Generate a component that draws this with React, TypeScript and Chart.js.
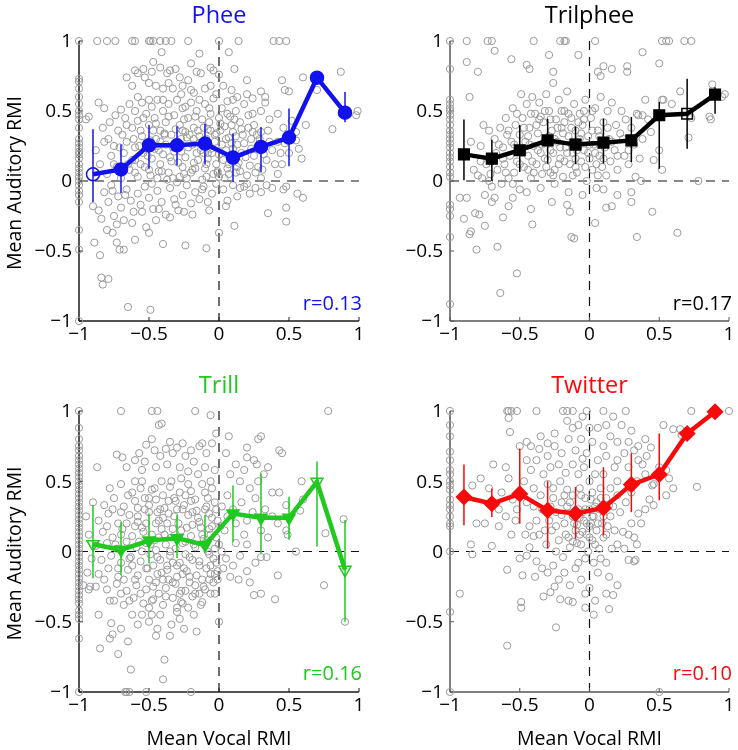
import React, { useEffect, useRef } from "react";
import { Chart, registerables } from "chart.js";

Chart.register(...registerables);

// ---------- data ----------
const binX = [-0.9, -0.7, -0.5, -0.3, -0.1, 0.1, 0.3, 0.5, 0.7, 0.9];
const tickValues = [-1, -0.5, 0, 0.5, 1];
const tickLabels = ["\u22121", "\u22120.5", "0", "0.5", "1"];

const pheeMean = [0.048, 0.083, 0.255, 0.255, 0.267, 0.167, 0.243, 0.31, 0.738, 0.488];
const pheeLo = [-0.15, -0.086, 0.088, 0.11, 0.12, -0.007, 0.064, 0.105, 0.738, 0.42];
const pheeHi = [0.37, 0.26, 0.4, 0.39, 0.41, 0.34, 0.386, 0.517, 0.738, 0.636];
const pheeOpen = [true, false, false, false, false, false, false, false, false, false];

const trilMean = [0.19, 0.16, 0.22, 0.29, 0.26, 0.274, 0.29, 0.47, 0.48, 0.617];
const trilLo = [0.005, 0.0, 0.064, 0.124, 0.12, 0.124, 0.136, 0.088, 0.23, 0.48];
const trilHi = [0.44, 0.295, 0.4, 0.445, 0.39, 0.445, 0.457, 0.564, 0.73, 0.67];
const trilOpen = [false, false, false, false, false, false, false, false, true, false];

const trillMean = [0.052, 0.012, 0.078, 0.095, 0.047, 0.27, 0.24, 0.24, 0.496, -0.13];
const trillLo = [-0.19, -0.165, -0.083, -0.047, 0.0, 0.07, -0.012, 0.083, 0.035, -0.5];
const trillHi = [0.33, 0.21, 0.27, 0.26, 0.26, 0.47, 0.555, 0.39, 0.64, 0.225];
const trillOpen = [true, false, false, false, false, false, false, false, true, true];

const twitMean = [0.388, 0.34, 0.41, 0.293, 0.27, 0.31, 0.476, 0.548, 0.84, 0.995];
const twitLo = [0.186, 0.245, 0.198, 0.02, 0.09, 0.114, 0.28, 0.364, 0.84, 0.995];
const twitHi = [0.62, 0.448, 0.733, 0.5, 0.46, 0.6, 0.7, 0.84, 0.84, 0.995];
const twitOpen = [false, false, false, false, false, false, false, false, false, false];

const pheeCells: number[][] = [
  [-1,1],[-0.87,1],[-0.8,1],[-0.74,1],[-0.62,1],[-0.6,1],[-0.5,1],[-0.49,1],[-0.47,1],[-0.42,1],[-0.38,1],[-0.34,1],[-0.22,1],[0,1],[0.14,1],[0.39,1],[0.43,1],[0.48,1],
  [-1,0.73],[-1,0.71],[-1,0.66],[-1,0.6],[-1,0.55],[-1,0.5],[-1,0.47],[-1,0.44],[-1,0.38],[-1,0.3],[-1,0.27],[-1,0.24],[-1,0.21],[-1,0.19],[-1,0.16],[-1,0.12],[-1,0.09],[-1,0.06],[-1,0.03],[-1,0],[-1,-0.03],[-1,-0.07],[-1,-0.1],[-1,-0.15],[-1,-0.35],[-1,-0.49],[-1,-1],[-0.95,0.44],[-0.93,0.46],
  [-0.41,0.92],[-0.14,0.91],[0.07,0.92],[-0.2,0.84],[-0.47,0.85],[0.11,0.8],[-0.06,0.81],[-0.04,0.79],[0,0.76],[-0.6,0.79],[-0.58,0.77],[-0.53,0.74],[-0.54,0.8],[-0.48,0.78],[-0.42,0.81],[-0.37,0.77],[-0.35,0.79],[-0.31,0.8],[-0.28,0.74],[-0.22,0.72],[-0.16,0.78],[-0.13,0.77],[0.2,0.72],[0.3,0.64],[0.45,0.72],[0.47,0.65],[0.5,0.64],[0.6,0.74],[0.87,0.78],[0.7,0.65],[-0.66,0.74],[-0.62,0.68],[-0.5,0.7],[-0.45,0.68],[-0.4,0.66],[-0.33,0.66],[-0.26,0.68],[-0.18,0.63],[-0.1,0.66],[-0.06,0.68],[0.03,0.68],[0.09,0.65],[0.13,0.6],[0.24,0.59],[0.33,0.6],[-0.2,0.65],[-0.36,0.7],
  [-0.86,0.56],[-0.82,0.52],[-0.78,0.42],[-0.74,0.47],[-0.7,0.51],[-0.67,0.45],[-0.64,0.55],[-0.6,0.5],[-0.58,0.43],[-0.55,0.56],[-0.52,0.48],[-0.5,0.4],[-0.48,0.53],[-0.46,0.45],[-0.44,0.58],[-0.42,0.36],[-0.4,0.5],[-0.38,0.42],[-0.36,0.55],[-0.34,0.33],[-0.32,0.47],[-0.3,0.58],[-0.28,0.4],[-0.26,0.52],[-0.24,0.35],[-0.22,0.45],[-0.2,0.56],[-0.18,0.38],[-0.16,0.5],[-0.14,0.32],[-0.12,0.44],[-0.1,0.55],[-0.08,0.37],[-0.06,0.48],[-0.04,0.59],[-0.02,0.34],[0,0.45],[0.02,0.52],[0.04,0.39],[0.06,0.57],[0.08,0.46],[0.1,0.35],[0.12,0.5],[0.15,0.42],[0.18,0.55],[0.21,0.38],[0.24,0.48],[0.27,0.33],[0.3,0.5],[0.33,0.56],[0.36,0.44],[0.42,0.48],[0.46,0.38],[0.52,0.43],[0.55,0.35],[0.62,0.4],[0.81,0.37],[0.99,0.5],[0.98,0.47],[-0.56,0.36],[-0.62,0.38],[-0.72,0.36],[-0.45,0.3],[-0.27,0.3],[-0.09,0.3],[0.07,0.31],[0.25,0.4],
  [-0.88,0.22],[-0.85,0.12],[-0.82,0.28],[-0.8,0.05],[-0.77,0.18],[-0.75,0.25],[-0.73,0.1],[-0.7,0.02],[-0.68,0.2],[-0.66,0.28],[-0.64,0.08],[-0.62,0.15],[-0.6,0.24],[-0.58,0.03],[-0.56,0.12],[-0.54,0.2],[-0.52,0.27],[-0.5,0.08],[-0.48,0.16],[-0.46,0.23],[-0.44,0.02],[-0.42,0.12],[-0.4,0.19],[-0.38,0.26],[-0.36,0.06],[-0.34,0.14],[-0.32,0.21],[-0.3,0.28],[-0.28,0.03],[-0.26,0.1],[-0.24,0.17],[-0.22,0.24],[-0.2,0.06],[-0.18,0.13],[-0.16,0.2],[-0.14,0.27],[-0.12,0.01],[-0.1,0.09],[-0.08,0.16],[-0.06,0.23],[-0.04,0.05],[-0.02,0.12],[0,0.19],[0.02,0.26],[0.04,0.02],[0.06,0.09],[0.08,0.16],[0.1,0.23],[0.12,0.06],[0.14,0.13],[0.16,0.2],[0.18,0.27],[0.2,0.04],[0.22,0.11],[0.25,0.18],[0.28,0.25],[0.31,0.08],[0.34,0.15],[0.38,0.22],[0.42,0.05],[0.45,0.12],[0.5,0.2],[0.55,0.29],[0.57,0.23],[0.59,0.16],[0.42,0.28],
  [-0.55,0.32],[-0.47,0.36],[-0.39,0.33],[-0.31,0.37],[-0.23,0.31],[-0.15,0.36],[-0.07,0.42],[0.01,0.36],[0.09,0.4],[0.17,0.33],[-0.51,0.18],[-0.43,0.22],[-0.35,0.17],[-0.27,0.21],[-0.19,0.26],[-0.11,0.2],[-0.03,0.28],[0.05,0.22],[0.13,0.26],[-0.49,0.04],[-0.41,0.07],[-0.33,0.02],[-0.25,0.05],[-0.17,0.09],[-0.09,0.03],[-0.01,0.06],[0.07,0.12],[0.15,0.07],[0.23,0.3],[0.3,0.35],
  [-0.69,0.33],[-0.65,0.12],[-0.61,0.3],[-0.57,0.25],[-0.53,0.1],[-0.49,0.29],[-0.45,0.41],[-0.43,0.07],[-0.39,0.34],[-0.37,0.01],[-0.33,0.24],[-0.29,0.13],[-0.25,0.44],[-0.23,0.02],[-0.21,0.33],[-0.19,0.08],[-0.17,0.46],[-0.15,0.15],[-0.13,0.22],[-0.11,0.38],[-0.09,0.12],[-0.07,0.52],[-0.05,0.2],[-0.03,0.33],[-0.01,0.07],[0.01,0.41],[0.03,0.15],[0.05,0.3],[0.07,0.05],[0.09,0.27],[0.11,0.44],[0.13,0.1],[0.16,0.37],[0.19,0.17],[0.21,0.47],[0.23,0.23],[0.26,0.06],[0.29,0.3],[0.32,0.19],[0.35,0.36],[0.4,0.12],[0.44,0.2],[0.47,0.27],[-0.66,0.4],[-0.6,0.06],[-0.54,0.45],[-0.48,-0.02],[-0.42,0.28],[-0.36,0.46],[-0.3,-0.01],[-0.24,0.53],[-0.18,0.3],[-0.12,-0.06],[-0.06,0.36],[0,0.03],[0.06,0.48],[0.12,0.32],[0.18,-0.04],[0.24,0.35],[0.3,0.02],[0.36,0.28],[-0.58,0.6],[-0.5,0.58],[-0.4,0.58],[-0.27,0.62],[-0.14,0.58],[-0.02,0.62],[0.1,0.58],[0.2,0.62],[-0.75,0.12],[-0.79,0.3],[-0.71,0.24],[-0.83,0.38],[-0.76,-0.07],[-0.67,-0.1],[-0.55,-0.22],[-0.43,-0.2],[-0.31,-0.17],[-0.19,-0.24],[-0.07,-0.21],[0.05,-0.18],[0.13,-0.11],[0.22,-0.09],[-0.6,0.15],[-0.44,0.25],[-0.26,0.36],[-0.08,0.2],[0.1,0.14],[0.28,0.1],
  [-0.9,-0.18],[-0.86,-0.21],[-0.84,-0.27],[-0.82,-0.08],[-0.79,-0.15],[-0.77,-0.03],[-0.75,-0.25],[-0.72,-0.11],[-0.7,-0.19],[-0.68,-0.28],[-0.66,-0.06],[-0.63,-0.14],[-0.61,-0.22],[-0.58,-0.09],[-0.56,-0.17],[-0.53,-0.04],[-0.5,-0.12],[-0.47,-0.2],[-0.44,-0.07],[-0.41,-0.15],[-0.38,-0.24],[-0.35,-0.05],[-0.32,-0.13],[-0.29,-0.21],[-0.26,-0.1],[-0.23,-0.03],[-0.2,-0.16],[-0.17,-0.08],[-0.14,-0.13],[-0.11,-0.04],[-0.08,-0.15],[-0.05,-0.09],[-0.02,-0.02],[0.03,-0.06],[0.06,-0.14],[0.1,-0.03],[0.15,-0.05],[0.2,-0.02],[0.26,-0.05],[0.3,-0.08],[0.34,-0.03],[0.38,-0.05],[0.46,-0.06],[0.48,-0.04],[0.56,-0.09],[-0.73,-0.31],[-0.8,-0.35],[-0.62,-0.3],[-0.52,-0.33],[-0.45,-0.28],[-0.35,-0.26],[-0.25,-0.22],
  [-0.85,-0.53],[-0.84,-0.69],[-0.83,-0.74],[-0.79,-0.7],[-0.65,-0.9],[-0.49,-0.92],[-0.89,-0.44],[-0.76,-0.37],[-0.73,-0.44],[-0.71,-0.49],[-0.68,-0.49],[-0.6,-0.42],[-0.5,-0.37],[-0.4,-0.45],[-0.24,-0.46],[-0.09,-0.48],[0,-0.37],[0.11,-0.32],[0.35,-0.23],[0.48,-0.29],[0.48,-0.19],[0.6,-0.12],
];

const trilCells: number[][] = [
  [-1,1],[-0.88,1],[-0.73,1],[-0.7,1],[-0.4,1],[-0.21,1],[-0.18,1],[-0.17,1],[0.04,1],[0.52,1],[0.55,1],[0.57,1],[0.68,1],[0.73,1],
  [-1,0.8],[-1,0.58],[-1,0.55],[-1,0.52],[-1,0.5],[-1,0.47],[-1,0.44],[-1,0.4],[-1,0.36],[-1,0.33],[-1,0.3],[-1,0.27],[-1,0.24],[-1,0.2],[-1,0.17],[-1,0.14],[-1,0.1],[-1,0.06],[-1,0.03],[-1,-0.17],[-1,-0.2],[-1,-0.25],[-1,-0.4],[-1,-0.88],
  [-0.88,0.85],[-0.86,0.6],[-0.8,0.78],[-0.68,0.93],[-0.56,0.87],[-0.45,0.83],[-0.43,0.8],[-0.29,0.9],[-0.26,0.78],[-0.08,0.9],[0.06,0.78],[0.08,0.75],[0.1,0.82],[0.16,0.8],[0.27,0.82],[0.27,0.78],[0.38,0.92],[0.5,0.84],[0.53,0.58],[0.65,0.64],[0.88,0.69],[0.97,0.62],[0.95,0.6],[0.86,0.46],[0.87,0.44],[0.59,0.55],[0.52,0.58],[0.4,0.58],[0.35,0.47],[0.38,0.47],[0.73,0.45],[0.71,0.31],[0.5,0.22],[0.52,0.08],[0.46,0.15],[0.44,0.35],[0.33,0.03],[0.37,0],[0.78,0],[0.3,-0.08],[0.3,-0.15],[0.45,-0.22],[0.34,-0.4],[0.63,-0.37],[0.12,-0.19],[0.16,-0.18],[0.04,-0.3],[-0.13,-0.4],[-0.11,-0.41],[-0.14,-0.22],[-0.16,-0.17],[-0.27,-0.15],[-0.41,-0.31],[-0.42,-0.2],[-0.66,-0.47],[-0.52,-0.66],[-0.64,-0.8],[-0.85,-0.36],[-0.86,-0.38],[-0.81,-0.49],[-0.9,-0.27],[-0.88,-0.12],[-0.93,-0.12],[-0.75,-0.32],[-0.79,-0.24],[-0.82,-0.23],[-0.7,-0.15],[-0.62,-0.26],[-0.58,-0.18],[-0.55,-0.12],
  [-0.85,0.28],[-0.83,0.08],[-0.8,0.04],[-0.78,0.25],[-0.77,0.02],[-0.76,0.4],[-0.74,0.12],[-0.72,0.36],[-0.71,0.05],[-0.7,-0.04],[-0.68,0.3],[-0.67,0.2],[-0.66,0.08],[-0.64,0.38],[-0.63,-0.02],[-0.62,0.24],[-0.61,0.12],[-0.6,0.45],[-0.59,0.33],[-0.58,0.02],[-0.57,0.18],[-0.56,0.28],[-0.55,0.52],[-0.54,0.06],[-0.53,0.4],[-0.52,0.14],[-0.51,0.22],[-0.5,0.33],[-0.5,-0.06],[-0.49,0.62],[-0.48,0.45],[-0.47,0.1],[-0.46,0.28],[-0.45,0.55],[-0.44,0.18],[-0.43,0.38],[-0.42,0.02],[-0.41,0.6],[-0.4,0.25],[-0.39,0.48],[-0.38,0.12],[-0.37,0.34],[-0.36,0.56],[-0.35,0.2],[-0.34,0.05],[-0.33,0.42],[-0.32,0.3],[-0.31,0.62],[-0.3,0.15],[-0.29,0.5],[-0.28,0.22],[-0.27,0.36],[-0.26,0.7],[-0.25,0.08],[-0.24,0.44],[-0.23,0.28],[-0.22,0.58],[-0.21,0.16],[-0.2,0.38],[-0.19,0.03],[-0.18,0.5],[-0.17,0.24],[-0.16,0.64],[-0.15,0.32],[-0.14,0.12],[-0.13,0.45],[-0.12,0.2],[-0.11,0.55],[-0.1,0.36],[-0.09,0.06],[-0.08,0.28],[-0.07,0.48],[-0.06,0.14],[-0.05,0.4],[-0.04,0.22],[-0.03,0.58],[-0.02,0],[-0.01,0.32],[0,0.16],[0.01,0.45],[0.02,0.08],[0.03,0.26],[0.04,0.52],[0.05,-0.05],[0.06,0.36],[0.07,0.18],[0.08,0.6],[0.09,0.1],[0.1,0.42],[0.11,0.24],[0.12,0.04],[0.13,0.5],[0.14,0.3],[0.15,0.14],[0.16,0.56],[0.18,0.22],[0.19,0.4],[0.2,0.08],[0.22,0.34],[0.23,0.5],[0.25,0.18],[0.26,0.44],[0.28,0.12],[0.3,0.38],[0.32,0.26],[0.34,0.48],[0.36,0.16],[0.38,0.3],[0.42,0.44],[-0.75,-0.1],[-0.68,-0.12],[-0.55,-0.02],[-0.45,-0.08],[-0.35,-0.05],[-0.25,-0.02],[-0.15,-0.08],[-0.05,-0.1],[0.1,-0.06],[0.2,-0.1],
  [-0.48,0.2],[-0.44,0.32],[-0.41,0.14],[-0.38,0.4],[-0.34,0.26],[-0.31,0.1],[-0.28,0.44],[-0.25,0.3],[-0.22,0.12],[-0.19,0.34],[-0.16,0.2],[-0.13,0.38],[-0.1,0.1],[-0.07,0.3],[-0.04,0.44],[-0.01,0.2],[0.02,0.36],[0.05,0.12],[-0.26,0.2],[-0.18,0.42],[-0.09,0.22],[-0.32,0.5],[-0.42,0.48],[-0.12,0.28],
  [-0.62,0.16],[-0.58,0.36],[-0.54,0.26],[-0.5,0.12],[-0.47,0.38],[-0.43,0.26],[-0.4,0.06],[-0.37,0.22],[-0.35,0.46],[-0.32,0.16],[-0.29,0.32],[-0.26,0.04],[-0.23,0.38],[-0.21,0.24],[-0.18,0.14],[-0.15,0.48],[-0.13,0.26],[-0.1,0.16],[-0.08,0.42],[-0.06,0.34],[-0.03,0.1],[0,0.26],[0.02,0.5],[0.04,0.2],[0.07,0.32],[0.1,0.16],[0.13,0.38],[0.16,0.28],[0.2,0.18],[0.24,0.3],[0.28,0.22],[-0.6,0.06],[-0.52,0.48],[-0.44,0.08],[-0.36,0.44],[-0.28,0.06],[-0.2,0.5],[-0.12,0.04],[-0.04,0.5],[0.06,0.04],[-0.7,0.14],[-0.65,0.26],[-0.78,0.14],[-0.72,0],
];

const trillCells: number[][] = [
  [-1,1],[-0.7,1],[-0.48,1],[-0.44,1],[-0.17,1],[0.78,1],[-0.06,0.97],[-0.43,0.9],[-0.41,0.91],
  [-1,0.88],[-1,0.8],[-1,0.75],[-1,0.72],[-1,0.68],[-1,0.65],[-1,0.62],[-1,0.59],[-1,0.56],[-1,0.53],[-1,0.5],[-1,0.47],[-1,0.44],[-1,0.41],[-1,0.38],[-1,0.35],[-1,0.32],[-1,0.29],[-1,0.26],[-1,0.23],[-1,0.2],[-1,0.17],[-1,0.14],[-1,0.11],[-1,0.08],[-1,0.05],[-1,0.02],[-1,-0.01],[-1,-0.04],[-1,-0.07],[-1,-0.1],[-1,-0.13],[-1,-0.16],[-1,-0.19],[-1,-0.22],[-1,-0.25],[-1,-0.28],[-1,-0.31],[-1,-0.34],[-1,-0.37],[-1,-0.42],[-1,-0.45],[-1,-0.48],[-1,-0.62],[-1,-1],
  [-0.67,-1],[-0.66,-1],[-0.64,-1],[-0.52,-1],[-0.2,-1],
  [-0.85,-0.69],[-0.72,-0.73],[-0.63,-0.84],[-0.65,-0.64],[-0.39,-0.77],[-0.4,-0.91],[-0.16,-0.57],[0,-0.5],[-0.86,-0.45],[-0.77,-0.51],[-0.76,-0.59],[-0.78,-0.62],[-0.7,-0.55],[-0.62,-0.45],[-0.58,-0.52],[-0.55,-0.45],[-0.5,-0.5],[-0.45,-0.6],[-0.44,-0.55],[-0.48,-0.45],[-0.34,-0.52],[-0.3,-0.43],[-0.28,-0.48],[-0.22,-0.4],[-0.27,-0.36],[-0.92,-0.25],[-0.93,-0.27],[-0.88,-0.25],
  [0.59,0.5],[0.6,0.37],[0.58,0.29],[0.76,0.13],[0.75,-0.24],[0.89,0.23],[0.9,-0.5],[0.43,0.72],[0.45,0.7],[0.3,0.82],[0.28,0.8],[0.2,0.74],[0.2,0.67],[0.25,0.65],[0.27,0.62],[0.35,0.6],[0.32,0.55],[0.4,-0.34],[0.3,-0.3],[0.25,-0.31],[0.22,-0.22],[0.3,-0.04],[0.34,-0.04],[0.55,0],[0.42,-0.17],[0.38,0.42],[0.43,0.42],[0.48,0.33],[0.48,0.15],[0.49,0.12],[0.35,0.1],[0.18,0.58],[0.12,0.62],[0.08,0.55],[0.15,0.5],[0.22,0.45],[0.26,0.38],[0.33,0.3],[0.38,0.25],[0.42,0.2],[0.3,0.15],[0.18,0.12],[0.12,0.2],[0.06,0.4],[0.1,0.3],[0.2,0.05],[0.15,-0.03],[0.1,-0.1],[0.05,-0.05],[0.08,-0.18],[0.14,-0.2],[0.2,-0.14],[0.26,-0.08],[0.04,0.15],[0.06,0.25],[0.16,0.35],[0.28,0.5],[0.05,0.7],[0.07,0.82],[-0.02,0.84],[0.24,0.28],[0.2,0.22],[0.12,0.06],
  [-0.87,0.6],[-0.73,0.69],[-0.69,0.67],[-0.66,0.6],[-0.6,0.65],[-0.57,0.7],[-0.53,0.64],[-0.52,0.76],[-0.48,0.8],[-0.46,0.72],[-0.42,0.68],[-0.38,0.73],[-0.35,0.78],[-0.33,0.7],[-0.3,0.74],[-0.26,0.77],[-0.24,0.68],[-0.2,0.72],[-0.18,0.64],[-0.14,0.75],[-0.12,0.77],[-0.09,0.7],[-0.05,0.77],[-0.55,0.58],[-0.45,0.6],[-0.37,0.62],[-0.28,0.6],[-0.22,0.57],[-0.1,0.6],[-0.03,0.58],
  [-0.78,0.45],[-0.7,0.48],[-0.62,0.42],[-0.55,0.5],[-0.48,0.44],[-0.41,0.5],[-0.35,0.46],[-0.27,0.52],[-0.2,0.43],[-0.12,0.48],[-0.05,0.45],
  [-0.82,0.33],[-0.75,0.38],[-0.68,0.32],[-0.6,0.36],[-0.53,0.3],[-0.45,0.37],[-0.39,0.31],[-0.32,0.38],[-0.25,0.33],[-0.17,0.37],[-0.1,0.3],[-0.03,0.35],
  [-0.86,0.22],[-0.79,0.27],[-0.72,0.2],[-0.64,0.26],[-0.58,0.21],[-0.5,0.28],[-0.43,0.22],[-0.36,0.27],[-0.29,0.2],[-0.22,0.26],[-0.14,0.21],[-0.07,0.27],[-0.01,0.22],
  [-0.83,0.14],[-0.76,0.1],[-0.69,0.16],[-0.62,0.11],[-0.55,0.17],[-0.48,0.12],[-0.41,0.16],[-0.34,0.1],[-0.27,0.15],[-0.2,0.11],[-0.13,0.17],[-0.06,0.12],
  [-0.88,0.04],[-0.8,0.06],[-0.73,0.02],[-0.66,0.07],[-0.59,0.03],[-0.52,0.06],[-0.45,0.01],[-0.38,0.05],[-0.31,0.02],[-0.24,0.07],[-0.17,0.03],[-0.1,0.06],[-0.03,0.02],
  [-0.84,-0.06],[-0.77,-0.03],[-0.7,-0.08],[-0.63,-0.04],[-0.56,-0.07],[-0.49,-0.02],[-0.42,-0.06],[-0.35,-0.03],[-0.28,-0.08],[-0.21,-0.04],[-0.14,-0.07],[-0.07,-0.02],[-0.02,-0.08],
  [-0.86,-0.16],[-0.79,-0.12],[-0.72,-0.18],[-0.65,-0.13],[-0.58,-0.17],[-0.51,-0.12],[-0.44,-0.16],[-0.37,-0.13],[-0.3,-0.18],[-0.23,-0.14],[-0.16,-0.17],[-0.09,-0.12],[-0.03,-0.16],
  [-0.8,-0.27],[-0.73,-0.23],[-0.66,-0.28],[-0.59,-0.24],[-0.52,-0.27],[-0.45,-0.22],[-0.38,-0.26],[-0.31,-0.23],[-0.24,-0.28],[-0.17,-0.24],[-0.1,-0.27],[-0.04,-0.22],
  [-0.75,-0.35],[-0.68,-0.38],[-0.61,-0.33],[-0.54,-0.37],[-0.47,-0.34],[-0.4,-0.38],[-0.33,-0.33],[-0.26,-0.37],[-0.19,-0.32],[-0.12,-0.36],[-0.06,-0.3],
  [-0.65,0.4],[-0.58,0.31],[-0.5,0.38],[-0.44,0.28],[-0.37,0.2],[-0.3,0.3],[-0.24,0.4],[-0.16,0.29],[-0.08,0.38],[-0.6,0.18],[-0.52,0.2],[-0.46,0.08],[-0.4,0.24],[-0.33,0.16],[-0.26,0.06],[-0.19,0.19],[-0.11,0.09],[-0.05,0.18],[-0.62,-0.1],[-0.55,0],[-0.47,-0.1],[-0.4,-0.2],[-0.33,-0.08],[-0.26,-0.16],[-0.19,-0.06],[-0.12,-0.2],[-0.06,-0.1],[-0.5,-0.2],[-0.43,-0.3],[-0.36,-0.2],[-0.28,-0.3],[-0.21,-0.22],[-0.14,-0.3],[-0.07,-0.2],[-0.01,-0.14],[-0.02,0.1],[-0.7,0.28],[-0.74,0.05],[-0.68,-0.2],[-0.7,-0.3],[-0.9,0.35],[-0.95,0.25],[-0.93,0.12],[-0.91,-0.05],[-0.94,-0.15],[-0.97,-0.24],
  [-0.58,0.25],[-0.56,-0.3],[-0.54,0.14],[-0.52,-0.12],[-0.5,0.33],[-0.49,0.05],[-0.47,-0.25],[-0.45,0.2],[-0.44,-0.04],[-0.42,0.3],[-0.41,-0.15],[-0.39,0.12],[-0.38,-0.32],[-0.36,0.36],[-0.35,0],[-0.33,-0.22],[-0.32,0.25],[-0.3,-0.1],[-0.29,0.1],[-0.27,-0.28],[-0.26,0.3],[-0.24,-0.02],[-0.23,0.17],[-0.21,-0.18],[-0.2,0.36],[-0.18,0.05],[-0.17,-0.3],[-0.15,0.24],[-0.14,-0.1],[-0.12,0.12],[-0.11,-0.25],[-0.09,0.32],[-0.08,0],[-0.06,-0.16],[-0.05,0.24],[-0.04,-0.05],[-0.02,0.3],[-0.01,-0.2],[0,0.05],[-0.57,0.07],[-0.53,0.38],[-0.48,-0.35],[-0.43,0.1],[-0.37,-0.1],[-0.31,0.36],[-0.25,-0.12],[-0.19,0.28],[-0.13,-0.38],[-0.07,0.16],[-0.03,-0.3],[-0.6,-0.2],[-0.66,0.2],[-0.64,-0.05],[-0.7,0.12],[-0.72,-0.12],[-0.76,0.3],[-0.8,0.18],[-0.82,-0.2],[-0.78,-0.35],[-0.64,-0.35],[-0.56,0.45],[-0.46,0.45],[-0.34,0.5],[-0.22,0.48],[-0.15,0.55],[-0.06,0.5],[-0.1,0.42],[-0.28,0.42],[-0.4,0.4],[-0.6,0.5],[0.02,0.32],[0.03,-0.12],[0.02,0],[0.01,0.18],[-0.5,-0.4],[-0.42,-0.45],[-0.3,-0.4],[-0.18,-0.45],[-0.35,-0.6],[-0.25,-0.55],
];

const twitCells: number[][] = [
  [-1,1],[-0.59,1],[-0.58,1],[-0.56,1],[-0.52,1],[-0.38,1],[-0.19,1],[-0.16,1],[-0.12,1],[-0.02,1],[0.1,1],[0.26,1],[0.73,1],[1,1],
  [-1,0.9],[-1,0.82],[-1,0.71],[-1,0.65],[-1,0.58],[-1,0.55],[-1,0.5],[-1,0.47],[-1,0.44],[-1,0.37],[-1,0.33],[-1,0.3],[-1,0.25],[-1,0.2],[-1,0.18],[-1,0],[-1,-0.43],[-1,-1],
  [-0.93,-0.3],[-0.59,-0.67],[-0.24,-0.54],[0.03,-0.45],[-0.03,-0.4],[0.14,-0.41],[0.17,-0.31],[0.2,-0.24],[0.14,-0.18],[-0.49,-0.36],[-0.49,-0.4],[-0.48,-0.17],[-0.59,-0.13],[-0.5,-0.05],[-0.39,-0.18],[-0.33,-0.32],[-0.28,-0.29],[-0.25,-0.25],[-0.21,-0.34],[-0.15,-0.35],[-0.12,-0.36],[-0.03,-0.3],[0.5,-1],[0.32,-0.07],[0.33,-0.06],[-0.85,0.05],[-0.84,0.47],[-0.78,0.52],[-0.81,0.2],[-0.7,0.04],[-0.69,0.62],[-0.84,-0.02],[-0.57,0.85],[-0.58,0.95],[-0.45,0.78],[-0.5,0.75],[-0.42,0.75],[-0.36,0.73],[-0.3,0.77],[-0.12,0.88],[0.06,0.88],[0.12,0.9],[0.23,0.9],[0.17,0.96],[0.4,0.8],[0.44,0.74],[0.53,0.9],[0.6,0.87],[0.65,0.87],[0.66,0.83],[0.77,0.46],[0.46,0.48],[0.46,0.33],[0.43,0.37],[0.45,0.47],[0.32,0.1],[0.35,0.27],[0.5,0.6],
  [-0.6,0.25],[-0.65,0.18],[-0.55,0.37],[-0.58,0.52],[-0.6,0.6],[-0.63,0.42],[-0.53,0.22],[-0.56,0.12],[-0.46,0.12],[-0.4,0.11],[-0.45,-0.03],[-0.43,0.03],[-0.38,-0.07],[-0.34,-0.12],[-0.3,-0.15],[-0.26,-0.1],[-0.22,-0.2],[-0.18,-0.15],[-0.14,-0.24],[-0.1,-0.12],[-0.06,-0.2],[-0.08,-0.08],[0,-0.26],[0.06,-0.15],[0.08,-0.05],[0.12,-0.08],[0.16,0.02],[0.2,0.05],[0.24,0.14],[0.28,0.12],[0.3,0.2],[0.22,0.28],[0.26,0.35],[0.3,0.42],[0.34,0.5],[0.38,0.62],[0.32,0.72],[0.35,0.65],[0.4,0.55],[0.28,0.6],[0.25,0.7],[0.2,0.78],[0.15,0.82],[0.1,0.75],[0.12,0.68],[0.18,0.6],[0.2,0.5],[0.15,0.45],[0.1,0.55],[0.06,0.65],[0.02,0.78],[-0.02,0.7],[-0.06,0.8],[-0.1,0.72],[-0.15,0.8],[-0.2,0.7],[-0.25,0.75],[-0.22,0.62],[-0.28,0.6],[-0.33,0.55],[-0.38,0.65],[-0.42,0.58],[-0.47,0.5],[-0.5,0.42],[-0.45,0.35],[-0.4,0.45],[-0.35,0.4],[-0.3,0.48],[-0.26,0.38],[-0.21,0.5],[-0.17,0.56],[-0.12,0.62],[-0.08,0.55],[-0.04,0.6],[0,0.5],[0.04,0.55],[0.08,0.45],[0.12,0.38],[0.17,0.32],[0.2,0.4],[0.05,0.35],[0.02,0.42],[-0.03,0.38],[-0.07,0.45],[-0.12,0.4],[-0.16,0.44],[-0.2,0.35],[-0.24,0.28],[-0.29,0.22],[-0.34,0.3],[-0.38,0.22],[-0.43,0.18],[-0.36,0.12],[-0.31,0.05],[-0.27,0.15],[-0.22,0.08],[-0.18,0.2],[-0.15,0.1],[-0.12,0.25],[-0.1,0.15],[-0.08,0.3],[-0.06,0.05],[-0.04,0.22],[-0.02,0.12],[0,0.3],[0,0.18],[0.02,0.08],[0.03,0.25],[0.05,0.15],[0.07,0.02],[0.09,0.2],[0.1,0.1],[0.13,0.18],[0.15,0.25],[-0.14,0.03],[-0.19,-0.04],[-0.24,0],[-0.03,-0.05],[-0.01,0],[0.03,-0.08],[-0.09,0.19],[-0.05,0.28],[0.01,0.2],[-0.07,0.12],[-0.16,0.32],[0.07,0.3],[-0.72,0.45],[-0.75,0.2],[-0.65,0.3],[-0.08,0.9],[0,0.88],[-0.16,0.93],[-0.05,0.96],[-0.25,0.84],[-0.35,0.82],[0.3,0.86],[0.35,0.75],[0.41,0.68],[0.55,0.58],[0.57,0.52],[0.6,0.45],[0.55,0.4],[0.4,0.3],[0.37,0.2],[0.34,0.05],[0.28,-0.06],[0.25,0.02],[0.12,-0.3],[0.04,-0.35],
  [-0.28,0.32],[-0.24,0.18],[-0.2,0.26],[-0.17,0.12],[-0.14,0.35],[-0.11,0.2],[-0.09,0.06],[-0.06,0.4],[-0.05,0.14],[-0.03,0.3],[-0.02,0.2],[0,0.1],[0.01,0.37],[0.02,0.25],[0.04,0.05],[0.06,0.2],[0.08,0.38],[0.1,0.25],[0.12,0.12],[0.14,0.33],[-0.32,0.15],[-0.18,0.4],[-0.07,0.24],[0.04,0.32],[-0.12,0.07],[-0.26,0.45],[-0.4,0.32],[-0.52,0.3],[0.18,0.15],[0.2,0.65],[0.28,0.78],[-0.05,0.66],[-0.3,0.68],[-0.45,0.65],
];

// ---------- panels ----------
type PanelDef = {
  title: string; color: string; rText: string; cells: number[][];
  mean: number[]; lo: number[]; hi: number[]; open: boolean[];
  pointStyle: string; pointRadius: number; rotation: number;
  left: number; top: number; pad: { left: number; right: number; top: number; bottom: number };
  axisColor: string; yTitle: boolean; xTitle: boolean;
  titleBase: number; rBase: number;
};

const FONT = '"Open Sans", "DejaVu Sans", sans-serif';

const panels: PanelDef[] = [
  { title: "Phee", color: "#1212ee", rText: "r=0.13", cells: pheeCells, mean: pheeMean, lo: pheeLo, hi: pheeHi, open: pheeOpen,
    pointStyle: "circle", pointRadius: 6.5, rotation: 0, left: 0, top: 0, pad: { left: 79, right: 10, top: 41, bottom: 54 },
    axisColor: "#1a1a1a", yTitle: true, xTitle: false, titleBase: 23, rBase: 310 },
  { title: "Trilphee", color: "#000000", rText: "r=0.17", cells: trilCells, mean: trilMean, lo: trilLo, hi: trilHi, open: trilOpen,
    pointStyle: "rect", pointRadius: 7.5, rotation: 0, left: 369, top: 0, pad: { left: 81, right: 7, top: 41, bottom: 54 },
    axisColor: "#555555", yTitle: false, xTitle: false, titleBase: 23, rBase: 310 },
  { title: "Trill", color: "#20c820", rText: "r=0.16", cells: trillCells, mean: trillMean, lo: trillLo, hi: trillHi, open: trillOpen,
    pointStyle: "triangle", pointRadius: 7, rotation: 180, left: 0, top: 375, pad: { left: 79, right: 10, top: 36, bottom: 58 },
    axisColor: "#1a1a1a", yTitle: true, xTitle: true, titleBase: 18, rBase: 305 },
  { title: "Twitter", color: "#f80a0a", rText: "r=0.10", cells: twitCells, mean: twitMean, lo: twitLo, hi: twitHi, open: twitOpen,
    pointStyle: "rectRot", pointRadius: 7.5, rotation: 0, left: 369, top: 375, pad: { left: 81, right: 7, top: 36, bottom: 58 },
    axisColor: "#555555", yTitle: false, xTitle: true, titleBase: 18, rBase: 305 },
];

function makeDeco(p: PanelDef) {
  return {
    id: "panelDeco",
    beforeDatasetsDraw(chart: any) {
      const { ctx, chartArea } = chart;
      const { left, right, top, bottom } = chartArea;
      const xs = chart.scales.x, ys = chart.scales.y;
      const seg = (a: number, b: number, c: number, d: number) => {
        ctx.beginPath(); ctx.moveTo(a, b); ctx.lineTo(c, d); ctx.stroke();
      };
      ctx.save();
      ctx.strokeStyle = "#111"; ctx.lineWidth = 1.2; ctx.setLineDash([9, 7]);
      const x0 = xs.getPixelForValue(0), y0 = ys.getPixelForValue(0);
      seg(left, y0, right, y0);
      seg(x0, top, x0, bottom);
      ctx.setLineDash([]);
      ctx.strokeStyle = p.axisColor; ctx.lineWidth = 1.5;
      seg(left, top, left, bottom);
      seg(left, bottom, right, bottom);
      ctx.lineWidth = 1;
      tickValues.forEach((v) => {
        const px = xs.getPixelForValue(v), py = ys.getPixelForValue(v);
        seg(px, bottom, px, bottom - 4);
        seg(left, py, left + 4, py);
      });
      ctx.fillStyle = "#000";
      ctx.font = `19px ${FONT}`;
      ctx.textAlign = "center"; ctx.textBaseline = "alphabetic";
      tickValues.forEach((v, i) => ctx.fillText(tickLabels[i], xs.getPixelForValue(v), bottom + 19));
      ctx.textAlign = "right"; ctx.textBaseline = "middle";
      tickValues.forEach((v, i) => ctx.fillText(tickLabels[i], left - 7, ys.getPixelForValue(v) + 1));
      ctx.fillStyle = p.color;
      ctx.font = `23.5px ${FONT}`;
      ctx.textAlign = "center"; ctx.textBaseline = "alphabetic";
      ctx.fillText(p.title, (left + right) / 2, p.titleBase);
      ctx.font = `20px ${FONT}`;
      ctx.textAlign = "right";
      ctx.fillText(p.rText, right + 3, p.rBase);
      ctx.fillStyle = "#000";
      ctx.font = `19.5px ${FONT}`;
      if (p.xTitle) {
        ctx.textAlign = "center";
        ctx.fillText("Mean Vocal RMI", (left + right) / 2, 370);
      }
      if (p.yTitle) {
        ctx.save();
        ctx.translate(15, (top + bottom) / 2 + 2);
        ctx.rotate(-Math.PI / 2);
        ctx.textAlign = "center"; ctx.textBaseline = "middle";
        ctx.fillText("Mean Auditory RMI", 0, 0);
        ctx.restore();
      }
      ctx.restore();
    },
    beforeDatasetDraw(chart: any, args: any) {
      if (args.index !== 0) return;
      const { ctx } = chart;
      const xs = chart.scales.x, ys = chart.scales.y;
      ctx.save();
      ctx.strokeStyle = p.color; ctx.lineWidth = 1.5;
      binX.forEach((bx, i) => {
        if (p.hi[i] === p.lo[i]) return;
        const px = xs.getPixelForValue(bx);
        ctx.beginPath();
        ctx.moveTo(px, ys.getPixelForValue(p.lo[i]));
        ctx.lineTo(px, ys.getPixelForValue(p.hi[i]));
        ctx.stroke();
      });
      ctx.restore();
    },
  };
}

function Panel({ p }: { p: PanelDef }) {
  const ref = useRef<HTMLCanvasElement>(null);
  useEffect(() => {
    if (!ref.current) return;
    const chart = new Chart(ref.current, {
      type: "scatter",
      data: {
        datasets: [
          {
            type: "line",
            data: binX.map((x, i) => ({ x, y: p.mean[i] })),
            borderColor: p.color,
            borderWidth: 4.5,
            showLine: true,
            tension: 0,
            pointStyle: p.pointStyle as any,
            pointRadius: p.pointRadius,
            pointRotation: p.rotation,
            pointBackgroundColor: p.open.map((o) => (o ? "rgba(255,255,255,0)" : p.color)),
            pointBorderColor: p.color,
            pointBorderWidth: 1.5,
            clip: false as any,
            order: 0,
          } as any,
          {
            data: p.cells.map(([x, y]) => ({ x, y })),
            showLine: false,
            pointStyle: "circle",
            pointRadius: 3.6,
            pointBorderWidth: 1,
            pointBorderColor: "#9a9a9a",
            pointBackgroundColor: "rgba(255,255,255,0)",
            clip: false as any,
            order: 1,
          } as any,
        ],
      },
      options: {
        animation: false,
        responsive: false,
        events: [],
        layout: { padding: p.pad },
        scales: {
          x: { type: "linear", min: -1, max: 1, display: false },
          y: { type: "linear", min: -1, max: 1, display: false },
        },
        plugins: { legend: { display: false }, tooltip: { enabled: false } },
      },
      plugins: [makeDeco(p)],
    });
    return () => chart.destroy();
  }, [p]);
  return (
    <canvas
      ref={ref}
      width={369}
      height={375}
      style={{ position: "absolute", left: p.left, top: p.top, width: 369, height: 375 }}
    />
  );
}

export default function App() {
  return (
    <div style={{ position: "absolute", left: 0, top: 0, width: 738, height: 750, background: "#fff" }}>
      {panels.map((p) => (
        <Panel key={p.title} p={p} />
      ))}
    </div>
  );
}
